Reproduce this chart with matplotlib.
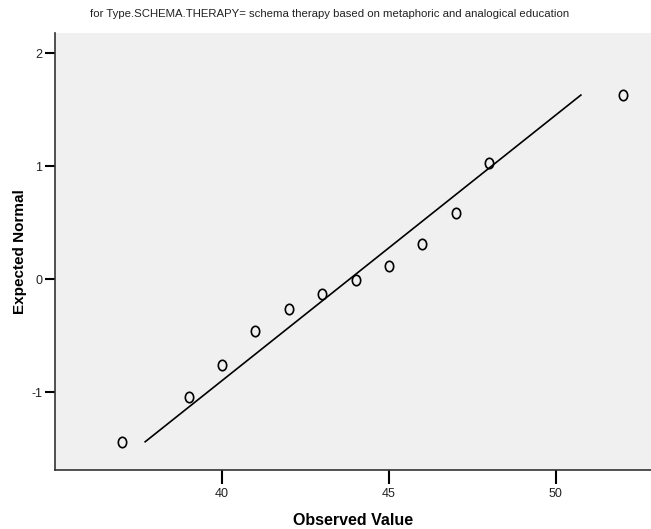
import numpy as np
import matplotlib
matplotlib.use('Agg')
import matplotlib.pyplot as plt
from matplotlib.path import Path
from matplotlib.transforms import Affine2D

observed = [37, 39, 40, 41, 42, 43, 44, 45, 46, 47, 48, 52]
expected = [-1.445, -1.04, -0.76, -0.46, -0.26, -0.135, -0.01, 0.115, 0.31, 0.59, 1.03, 1.635]

# reference normal line
line_mean = 43.82
line_sd = 4.25
line_x = [37.7, 50.75]

title = 'for Type.SCHEMA.THERAPY= schema therapy based on metaphoric and analogical education'
x_ticks = [40, 45, 50]
y_ticks = [-1, 0, 1, 2]

sans = ['Liberation Sans', 'DejaVu Sans']

fig = plt.figure(figsize=(6.51, 5.29), dpi=100)
ax = fig.add_axes([0.0845, 0.1115, 0.9155, 0.8261])
ax.set_facecolor('#f0f0f0')

# oval "O" shaped marker
oval = Path.unit_circle().transformed(Affine2D().scale(0.8, 1.0))

lx = np.array(line_x)
ax.plot(lx, (lx - line_mean) / line_sd, color='black', lw=1.2)
ax.plot(observed, expected, linestyle='none', marker=oval, markersize=7.5,
        markerfacecolor='none', markeredgecolor='black', markeredgewidth=1.2)

ax.set_xlim(35.0, 52.85)
ax.set_ylim(-1.69, 2.18)
ax.set_xticks(x_ticks)
ax.set_yticks(y_ticks)
ax.set_xticklabels([str(t) for t in x_ticks], family=sans, fontsize=9, color='#222222')
ax.set_yticklabels([str(t) for t in y_ticks], family=sans, fontsize=9, color='#222222')
ax.tick_params(axis='x', direction='out', length=10, width=1.5, pad=3)
ax.tick_params(axis='y', direction='out', length=7, width=1.5, pad=2)

for side in ['top', 'right']:
    ax.spines[side].set_visible(False)
for side in ['left', 'bottom']:
    ax.spines[side].set_linewidth(1.2)
    ax.spines[side].set_color('#333333')

ax.set_ylabel('Expected Normal', family=sans, fontsize=11, fontweight='bold', labelpad=3)
ax.set_xlabel('Observed Value', family=sans, fontsize=11.5, fontweight='bold', labelpad=9)

fig.text(0.507, 0.973, title, family=sans, fontsize=8.2, ha='center', va='center', color='#222222')

fig.savefig('out.png', dpi=100)
